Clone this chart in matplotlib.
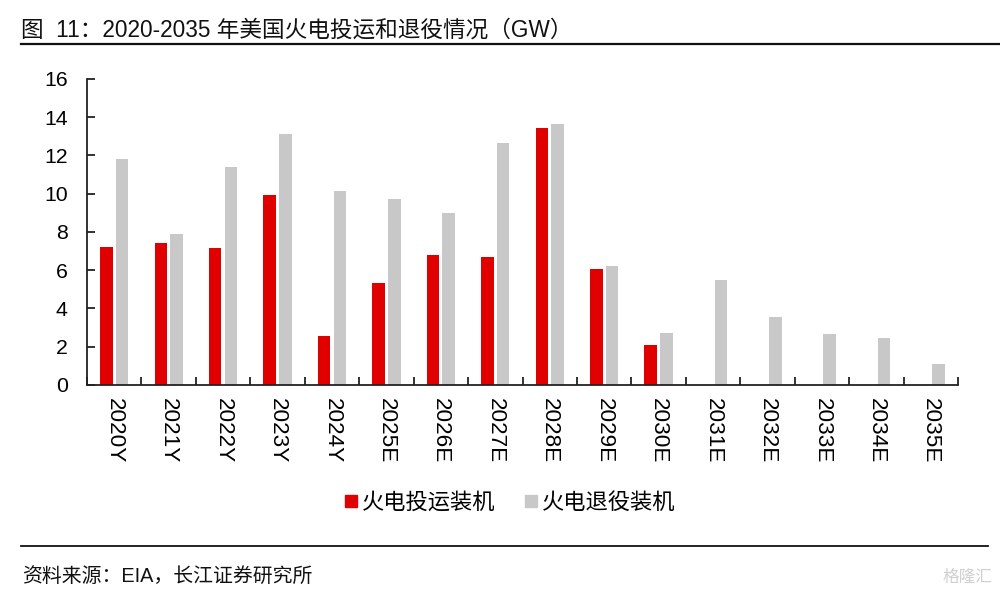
import matplotlib
matplotlib.use("Agg")
import matplotlib.pyplot as plt
import numpy as np
from matplotlib.lines import Line2D

plt.rcParams['font.family'] = ['Liberation Sans', 'Noto Sans CJK SC', 'DejaVu Sans']

categories = ["2020Y", "2021Y", "2022Y", "2023Y", "2024Y", "2025E", "2026E", "2027E",
              "2028E", "2029E", "2030E", "2031E", "2032E", "2033E", "2034E", "2035E"]
commissioned = [7.24, 7.40, 7.16, 9.93, 2.57, 5.34, 6.79, 6.67,
                13.44, 6.06, 2.09, 0, 0, 0, 0, 0]
retired = [11.80, 7.92, 11.38, 13.14, 10.12, 9.72, 8.99, 12.63,
           13.66, 6.23, 2.72, 5.50, 3.54, 2.69, 2.46, 1.12]
series_names = ["火电投运装机", "火电退役装机"]
yticks = [0, 2, 4, 6, 8, 10, 12, 14, 16]

RED = "#E00000"
GRAY = "#C8C8C8"

fig = plt.figure(figsize=(10, 5.92), dpi=100)
ax = fig.add_axes([0.087, 0.3497, 0.871, 0.5169])

x = np.arange(len(categories))
w = 0.23
b1 = ax.bar(x - 0.145, commissioned, width=w, color=RED, label=series_names[0])
b2 = ax.bar(x + 0.144, retired, width=w, color=GRAY, label=series_names[1])

ax.set_xlim(-0.5, len(categories) - 0.5)
ax.set_ylim(0, 16)
ax.set_yticks(yticks)
ax.set_yticklabels([str(t) for t in yticks], fontsize=15.3)

ax.set_xticks(x)
ax.set_xticklabels(categories, rotation=-90, fontsize=16.2, va='top', ha='center')
ax.tick_params(axis='x', which='major', length=0, pad=9.5)
ax.set_xticks(np.arange(-0.5, len(categories)), minor=True)
ax.tick_params(axis='x', which='minor', direction='in', length=6, width=1.3, color='#222222')
ax.tick_params(axis='y', direction='in', length=6, width=1.3, color='#222222', pad=14)

for s in ['top', 'right']:
    ax.spines[s].set_visible(False)
for s in ['left', 'bottom']:
    ax.spines[s].set_linewidth(1.3)
    ax.spines[s].set_color('#222222')

handles = [Line2D([0], [0], marker='s', color='none', markerfacecolor=RED, markeredgecolor=RED, markersize=8),
           Line2D([0], [0], marker='s', color='none', markerfacecolor=GRAY, markeredgecolor=GRAY, markersize=8)]
fig.legend(handles, series_names, loc='center', bbox_to_anchor=(0.51, 0.150), ncol=2,
           frameon=False, fontsize=16, handlelength=0.6, handletextpad=0.2, columnspacing=1.3)

# Title and decorations
fig.text(0.021, 1 - 30 / 592, "图  11：2020-2035 年美国火电投运和退役情况（GW）", fontsize=16.3,
         va='center', ha='left', color='#111111')
fig.add_artist(Line2D([0.021, 1.0], [1 - 44 / 592, 1 - 44 / 592], color='#111111', linewidth=1.6))
fig.add_artist(Line2D([0.021, 0.988], [1 - 546 / 592, 1 - 546 / 592], color='#111111', linewidth=1.3))
fig.text(0.022, 1 - 576 / 592, "资料来源：EIA，长江证券研究所", fontsize=14.3,
         va='center', ha='left', color='#111111')
fig.text(0.992, 1 - 577 / 592, "格隆汇", fontsize=12, va='center', ha='right', color='#d0d0d0')

fig.savefig("out.png", dpi=100)
